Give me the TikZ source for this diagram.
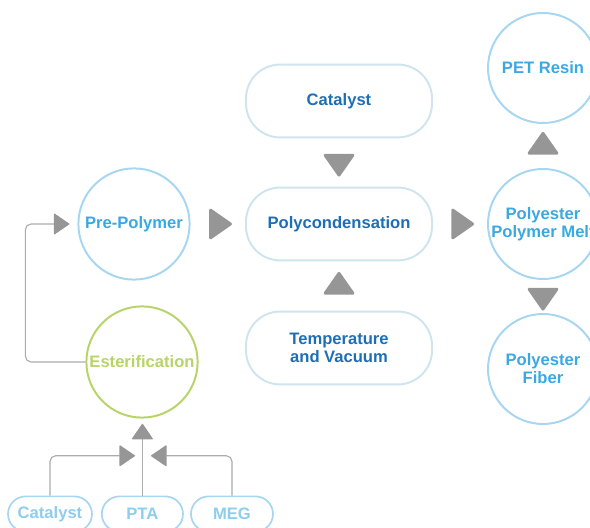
\documentclass[tikz,border=0pt]{standalone}
\usepackage{fontspec}
\setmainfont{Liberation Sans}
\usetikzlibrary{arrows.meta, positioning, calc, shapes.geometric}
\definecolor{cSky}{RGB}{166,214,240}
\definecolor{cSkyText}{RGB}{58,168,225}
\definecolor{cSkyLight}{RGB}{140,205,240}
\definecolor{cPale}{RGB}{208,228,238}
\definecolor{cNavy}{RGB}{30,110,182}
\definecolor{cLime}{RGB}{182,212,104}
\definecolor{cTri}{RGB}{150,150,150}
\definecolor{cLine}{RGB}{172,172,172}

\begin{document}
\begin{tikzpicture}[
  font=\fontsize{11.8}{12.8}\selectfont\bfseries,
  circ/.style={circle, draw=cSky, line width=1.4pt, minimum size=2.78cm,
               inner sep=0pt, align=center, text=cSkyText},
  pill/.style={draw=cPale, line width=1.4pt, rounded corners=0.85cm,
               minimum width=4.65cm, minimum height=1.82cm, align=center, text=cNavy},
  src/.style={draw=cSky, line width=1.2pt, rounded corners=0.44cm,
              minimum height=0.88cm, text=cSkyLight},
  tri/.style={isosceles triangle, isosceles triangle stretches, sloped, allow upside down,
              fill=cTri, draw=cTri, line join=round, line width=2pt,
              minimum width=0.7cm, minimum height=0.5cm, inner sep=0pt},
  feed/.style={-{Triangle[length=0.4cm, width=0.54cm, round, color=cTri]},
               draw=cLine, line width=0.8pt, rounded corners=4pt}
]

\useasboundingbox (0,0) rectangle (14.75,13.2);
\clip (0,0) rectangle (14.75,13.2);

%% Middle column
\node[pill] (cat_top) at (8.475, 10.675) {Catalyst};
\node[pill] (poly)    at (8.475, 7.6)    {Polycondensation};
\node[pill] (temp)    at (8.475, 4.5)    {Temperature\\and Vacuum};

%% Left column
\node[circ] (prepoly) at (3.35, 7.6)  {Pre-Polymer};
\node[circ, draw=cLime, text=cLime] (ester) at (3.55, 4.15) {Esterification};

%% Right column
\node[circ, minimum size=2.75cm] (pet)   at (13.575, 11.5)  {PET Resin};
\node[circ, minimum size=2.75cm] (melt)  at (13.575, 7.6)   {Polyester\\Polymer Melt};
\node[circ, minimum size=2.75cm] (fiber) at (13.575, 3.975) {Polyester\\Fiber};

%% Raw materials
\node[src, minimum width=2.1cm]  (cat_b) at (1.25, 0.35) {Catalyst};
\node[src, minimum width=2.03cm] (pta)   at (3.56, 0.35) {PTA};
\node[src, minimum width=2.05cm] (meg)   at (5.8, 0.35)  {MEG};

%% Triangle connectors
\path (cat_top) -- node[tri] {} (poly);
\path (temp)    -- node[tri] {} (poly);
\path (prepoly) -- node[tri] {} (poly);
\path (poly)    -- node[tri] {} (melt);
\path (melt)    -- node[tri] {} (pet);
\path (melt)    -- node[tri] {} (fiber);

%% Feed lines into esterification
\coordinate (mix) at ($(ester.south)+(0,-0.93)$);
\draw[feed] (cat_b.north) |- ([xshift=-0.175cm]mix);
\draw[feed, shorten >=0.13cm] (pta.north) -- (pta.north |- ester.south);
\draw[feed] (meg.north) |- ([xshift=0.225cm]mix);

%% Esterification back to pre-polymer
\draw[feed, shorten >=0.2cm] (ester.west) -- ++(-1.5,0) |- (prepoly.west);

\end{tikzpicture}
\end{document}
